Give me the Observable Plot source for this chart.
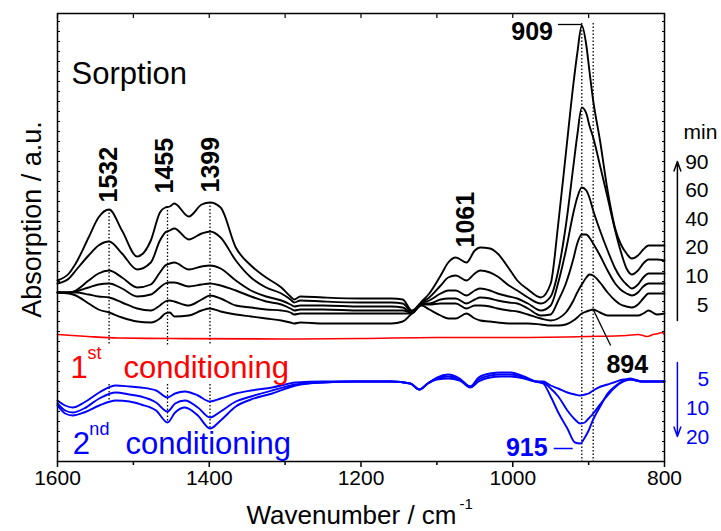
<!DOCTYPE html>
<html><head><meta charset="utf-8">
<script src="https://cdn.jsdelivr.net/npm/d3@7"></script>
<script src="https://cdn.jsdelivr.net/npm/@observablehq/plot@0.6"></script>
<style>body{margin:0;background:#fff}</style>
</head><body><div id="chart"></div>
<script>
// ---- data (absorbance, arbitrary units) ----
const wnBlack = [1600,1585,1576,1559,1546,1532,1515,1495,1477,1465,1458,1452,1446,1427,1410,1399,1385,1365,1345,1325,1305,1293,1288,1280,1250,1200,1160,1145,1133,1120,1110,1095,1085,1075,1061,1050,1043,1030,1020,1005,994,980,963,950,940,930,920,915,909,903,899,894,885,875,865,858,850,843,835,828,821,810,800];
const timesBlack = [5,10,20,40,60,90];
const s5  = [169,168,166,158,152,149,144,140,139,143,148,149,145,146,151,153,150,147,145,143,141,139,138,139,138,138,138,140,148,156,152,146,143,143,148,143,141,140,139,138,138,138,137,136,136,137,141,144,148,150,151,152,149,146,146,146,146,146,146,148,151,147,148];
const s10 = [169,169,169,167,165,164,159,153,151,156,160,161,160,156,162,166,163,156,154,152,151,149,147,148,148,148,148,148,148,157,157,158,158,158,153,156,156,155,153,151,150,147,143,141,143,149,161,169,177,184,187,186,179,169,161,157,155,154,157,163,168,168,168];
const s20 = [169,169,170,174,177,178,173,165,167,174,178,179,179,175,177,178,176,171,165,160,157,153,151,152,152,151,151,151,149,158,158,162,163,163,158,162,164,163,161,159,158,153,146,147,161,178,203,218,227,227,224,218,206,191,178,172,168,166,169,175,178,178,178];
const s40 = [169,169,171,181,188,191,184,174,177,189,196,198,199,192,195,196,193,181,171,165,161,157,155,156,156,155,155,154,149,158,161,168,171,171,166,171,173,171,168,165,163,158,151,156,179,211,249,264,274,271,264,251,231,211,193,184,177,173,177,184,188,188,188];
const s60 = [178,183,191,206,216,220,208,192,199,221,229,231,233,222,228,230,224,201,184,174,168,162,159,161,160,159,159,158,150,159,164,176,184,186,181,188,191,189,185,176,171,164,158,165,191,236,296,326,354,348,336,324,296,264,231,211,193,187,191,198,202,202,201];
const s90 = [181,188,198,224,244,252,231,205,221,249,254,255,258,245,257,259,254,214,196,184,174,165,162,165,164,163,163,162,151,160,168,186,199,204,199,211,214,213,208,193,181,172,164,178,238,308,378,408,436,416,391,361,321,271,233,218,208,203,206,212,216,216,216];

const wnRed = [1600,1560,1520,1450,1300,1200,1100,1000,900,850,835,828,823,815,808,803,800];
const sRed  = [127,125,123.5,123,122.5,123,124,124,125,126,127,126,125,127,128,129,127];

const wnBlue = [1600,1590,1580,1565,1545,1523,1505,1490,1470,1455,1445,1432,1415,1399,1385,1365,1345,1317,1286,1250,1207,1160,1135,1123,1112,1100,1085,1070,1056,1045,1030,1015,1003,985,970,960,950,940,928,918,911,905,900,894,884,875,867,854,845,830,815,800];
const timesBlue = [5,10,20];
const b5  = [61,56,54,59,69,76,75,74,71,64,68,70,66,60,63,68,71,74,79,80,80,80,78,72,78,82,83,81,74,80,84,85,85,83,80,80,76,73,69,67,66,67,68,71,75,77,79,82,82,80,80,80];
const b10 = [58,51,49,53,63,69,67,65,59,50,58,61,54,44,50,60,65,71,77,79,80,80,78,72,78,83,85,82,75,82,86,87,87,84,80,79,73,65,51,42,38,39,43,48,58,66,73,80,82,80,80,80];
const b20 = [56,48,46,49,56,61,60,57,51,39,49,54,46,33,41,55,62,68,76,79,80,80,78,72,78,84,87,83,75,84,88,89,89,85,80,78,65,49,33,19,18,24,31,42,56,68,74,81,83,80,80,80];

const xTicks = [1600,1400,1200,1000,800];
const xMinor = [1500,1300,1100,900];
const dottedUpper = [1532,1455,1399];
const dottedFull = [909,894];

// ---- tidy tables ----
const blackSets = [s5,s10,s20,s40,s60,s90];
const blackRows = blackSets.flatMap((arr,i)=>arr.map((a,j)=>({wn:wnBlack[j], a, t:timesBlack[i]})));
const blueSets = [b5,b10,b20];
const blueRows = blueSets.flatMap((arr,i)=>arr.map((a,j)=>({wn:wnBlue[j], a, t:timesBlue[i]})));
const redRows = wnRed.map((wn,j)=>({wn, a:sRed[j]}));

function interp(xs, ys, x){
  for(let j=0;j<xs.length-1;j++){
    const x0=xs[j], x1=xs[j+1];
    if((x<=x0 && x>=x1)){ const t=(x-x0)/(x1-x0); return ys[j]+t*(ys[j+1]-ys[j]); }
  }
  return ys[ys.length-1];
}

const upperRules = dottedUpper.map(wn=>({wn, y1: interp(wnBlack,s90,wn), y2: interp(wnRed,sRed,wn)-7}));
const lowerRules = dottedUpper.map(wn=>({wn, y1: 77, y2: interp(wnBlue,b20,wn)}));
const fullRules = dottedFull.map(wn=>({wn, y1: 438, y2: 0}));

const rotLabels = [
  {t:"1532", wn:1532, a:259},
  {t:"1455", wn:1458, a:268},
  {t:"1399", wn:1398, a:269},
  {t:"1061", wn:1062, a:214}
];

const F = "Liberation Sans, Arial, Helvetica, sans-serif";
const blue = "#0000ff", red = "#ff0000";
const yTicks = d3.range(0, 449, 10);

const legendX = 742; // label column (beyond 800, right of frame)
const blackLegend = timesBlack.map((t,i)=>({t:String(t), a:150 + i*28.6}));
const blueLegend = timesBlue.map((t,i)=>({t:String(t), a:76 - i*29}));

const chart = Plot.plot({
  width: 721, height: 531,
  marginLeft: 57, marginRight: 57, marginTop: 13, marginBottom: 70,
  style: {fontFamily: F, background: "white", color: "black", overflow: "visible"},
  x: {domain: [1600, 800], axis: null},
  y: {domain: [0, 448], axis: null},
  marks: [
    // dotted guides
    Plot.ruleX(upperRules, {x:"wn", y1:"y1", y2:"y2", stroke:"black", strokeWidth:1.3, strokeDasharray:"1.5,2"}),
    Plot.ruleX(lowerRules, {x:"wn", y1:"y1", y2:"y2", stroke:"black", strokeWidth:1.3, strokeDasharray:"1.5,2"}),
    Plot.ruleX(fullRules, {x:"wn", y1:"y1", y2:"y2", stroke:"black", strokeWidth:1.3, strokeDasharray:"1.5,2"}),
    // spectra
    Plot.line(redRows, {x:"wn", y:"a", stroke: red, strokeWidth:1.6, curve:"monotone-x"}),
    Plot.line(blueRows, {x:"wn", y:"a", z:"t", stroke: blue, strokeWidth:1.9, curve:"monotone-x"}),
    Plot.line(blackRows, {x:"wn", y:"a", z:"t", stroke:"black", strokeWidth:1.9, curve:"monotone-x"}),
    // axes
    Plot.axisX({anchor:"bottom", ticks: xTicks, tickSize:6, tickPadding:3, fontSize:21, strokeWidth:1.5, label:null, tickFormat:d=>String(d)}),
    Plot.axisX({anchor:"bottom", ticks: xMinor, tickSize:4, strokeWidth:1.5, label:null, tickFormat:()=>""}),
    Plot.axisX({anchor:"top", ticks: xTicks.concat(xMinor), tickSize:4, dy:4, strokeWidth:1.2, label:null, tickFormat:()=>""}),
    Plot.axisY({anchor:"left", ticks: yTicks, tickSize:3, dx:3, strokeWidth:1, label:null, tickFormat:()=>""}),
    Plot.axisY({anchor:"right", ticks: yTicks, tickSize:3, dx:-3, strokeWidth:1, label:null, tickFormat:()=>""}),
    Plot.frame({stroke:"black", strokeWidth:1.5}),
    // axis titles
    Plot.text(["Absorption / a.u."], {frameAnchor:"left", rotate:-90, dx:-17, dy:-18, lineAnchor:"bottom", textAnchor:"middle", fontSize:27, fill:"black"}),
    Plot.text(["Wavenumber / cm"], {frameAnchor:"bottom", dx:-9.5, dy:62, lineAnchor:"bottom", textAnchor:"middle", fontSize:26, fill:"black"}),
    Plot.text(["-1"], {frameAnchor:"bottom", dx:98.5, dy:47, lineAnchor:"bottom", textAnchor:"start", fontSize:15, fill:"black"}),
    // annotations
    Plot.text(["Sorption"], {x:()=>1581.5, y:()=>378, lineAnchor:"bottom", textAnchor:"start", fontSize:31, fill:"black"}),
    Plot.text(rotLabels, {x:"wn", y:"a", text:"t", rotate:-90, textAnchor:"start", lineAnchor:"middle", fontSize:25, fontWeight:"bold", fill:"black"}),
    Plot.text(["909"], {x:()=>947, y:()=>422, lineAnchor:"bottom", textAnchor:"end", fontSize:25, fontWeight:"bold", fill:"black"}),
    Plot.link([{x1:940.5, x2:909, y:437}], {x1:"x1", x2:"x2", y1:"y", y2:"y", stroke:"black", strokeWidth:1.3}),
    Plot.text(["894"], {x:()=>849, y:()=>89, lineAnchor:"bottom", textAnchor:"middle", fontSize:25, fontWeight:"bold", fill:"black"}),
    Plot.link([{x1:894, y1:152, x2:871, y2:116}], {x1:"x1", x2:"x2", y1:"y1", y2:"y2", stroke:"black", strokeWidth:1.3}),
    Plot.text(["915"], {x:()=>954, y:()=>6, lineAnchor:"bottom", textAnchor:"end", fontSize:25, fontWeight:"bold", fill: blue}),
    Plot.link([{x1:946, x2:921, y:13}], {x1:"x1", x2:"x2", y1:"y", y2:"y", stroke: blue, strokeWidth:1.5}),
    // conditioning labels
    Plot.text(["1"], {x:()=>1583, y:()=>84, lineAnchor:"bottom", textAnchor:"start", fontSize:31, fill: red}),
    Plot.text(["st"], {x:()=>1560.5, y:()=>103, lineAnchor:"bottom", textAnchor:"start", fontSize:18, fill: red}),
    Plot.text(["conditioning"], {x:()=>1513, y:()=>84, lineAnchor:"bottom", textAnchor:"start", fontSize:31, fill: red}),
    Plot.text(["2"], {x:()=>1580, y:()=>8, lineAnchor:"bottom", textAnchor:"start", fontSize:31, fill: blue}),
    Plot.text(["nd"], {x:()=>1558, y:()=>27, lineAnchor:"bottom", textAnchor:"start", fontSize:18, fill: blue}),
    Plot.text(["conditioning"], {x:()=>1510.5, y:()=>8, lineAnchor:"bottom", textAnchor:"start", fontSize:31, fill: blue}),
    // time legend (right of frame)
    Plot.text(["min"], {x:()=>775, y:()=>323, lineAnchor:"bottom", textAnchor:"start", fontSize:21, fill:"black"}),
    Plot.text(blackLegend, {x:()=>legendX, y:"a", text:"t", lineAnchor:"bottom", textAnchor:"end", fontSize:21, fill:"black"}),
    Plot.arrow([{x:783, y1:141, y2:300}], {x1:"x", x2:"x", y1:"y1", y2:"y2", stroke:"black", strokeWidth:1.5, headLength:10, headAngle:40}),
    Plot.text(blueLegend, {x:()=>741, y:"a", text:"t", lineAnchor:"bottom", textAnchor:"end", fontSize:21, fill: blue}),
    Plot.arrow([{x:783, y1:99, y2:25}], {x1:"x", x2:"x", y1:"y1", y2:"y2", stroke: blue, strokeWidth:1.5, headLength:10, headAngle:40})
  ]
});
document.getElementById("chart").appendChild(chart);
</script>
</body></html>
